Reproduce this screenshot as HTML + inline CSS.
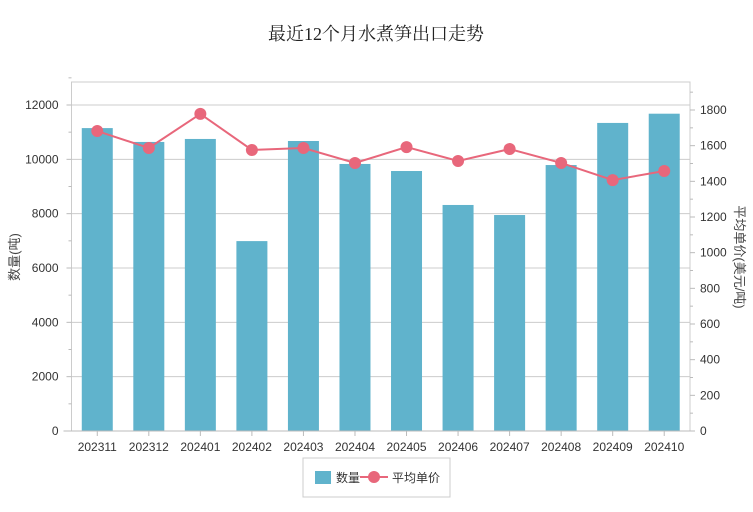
<!DOCTYPE html>
<html><head><meta charset="utf-8"><style>
body{margin:0;background:#fff;}
svg text{font-family:"Liberation Sans","Noto Sans CJK SC",sans-serif;}
</style></head><body>
<svg id="c" width="753" height="507" xmlns="http://www.w3.org/2000/svg">
<text x="376" y="40" text-anchor="middle" font-size="18" fill="#222" style="font-family:'Liberation Serif','Noto Serif CJK SC',serif">最近12个月水煮笋出口走势</text>
<g id="grid"></g><g id="bars"></g><g id="axes"></g><g id="line"></g>
<text transform="translate(19,257) rotate(-90)" text-anchor="middle" font-size="13" fill="#444">数量(吨)</text>
<text transform="translate(735,257) rotate(90)" text-anchor="middle" font-size="13" fill="#444">平均单价(美元/吨)</text>
<g>
<rect x="303" y="458" width="147" height="39" fill="#fff" stroke="#ccc"/>
<rect x="315" y="471" width="16" height="13" fill="#60b3cc"/>
<text x="336" y="482" font-size="12" fill="#333">数量</text>
<line x1="360" y1="477" x2="388" y2="477" stroke="#e8677b" stroke-width="2"/>
<circle cx="374" cy="477" r="6" fill="#e8677b"/>
<text x="392" y="482" font-size="12" fill="#333">平均单价</text>
</g>
</svg>
<script>
const categories=["202311","202312","202401","202402","202403","202404","202405","202406","202407","202408","202409","202410"];
const quantity=[11150,10640,10750,6990,10675,9830,9570,8320,7950,9790,11340,11680];
const price=[1682,1587,1778,1576,1587,1503,1592,1514,1581,1503,1407,1458];
const leftTicks=[0,2000,4000,6000,8000,10000,12000];
const rightTicks=[0,200,400,600,800,1000,1200,1400,1600,1800];
const NS="http://www.w3.org/2000/svg";
const X0=71.5,X1=690,Y0=431,YT=82;
const yL=v=>Y0-v*(326/12000);
const yR=v=>Y0-v*(321/1800);
const bw=(X1-X0)/categories.length;
const xC=i=>X0+bw*(i+0.5);
function mk(p,t,a){const e=document.createElementNS(NS,t);for(const k in a)e.setAttribute(k,a[k]);document.getElementById(p).appendChild(e);return e;}
const grid=document.getElementById('grid');
mk('grid','rect',{x:X0,y:YT,width:X1-X0,height:Y0-YT,fill:'none',stroke:'#ccc'});
leftTicks.forEach(v=>{
 const l=mk('grid','line',{x1:X0,x2:X1,y1:yL(v),y2:yL(v),stroke:'#ccc'});
 
 
 const t=mk('axes','text',{x:X0-13,y:yL(v)+4,'text-anchor':'end','font-size':'12',fill:'#333'});t.textContent=v;
 
 
 mk('axes','line',{x1:X0-5,x2:X0,y1:yL(v),y2:yL(v),stroke:'#bbb'});
 mk('axes','line',{x1:X0-3,x2:X0,y1:yL(v+1000),y2:yL(v+1000),stroke:'#bbb'});
});
rightTicks.forEach(v=>{
 const t=mk('axes','text',{x:X1+10,y:yR(v)+4,'font-size':'12',fill:'#333'});t.textContent=v;
 
 
 mk('axes','line',{x1:X1,x2:X1+5,y1:yR(v),y2:yR(v),stroke:'#bbb'});
 mk('axes','line',{x1:X1,x2:X1+3,y1:yR(v+100),y2:yR(v+100),stroke:'#bbb'});
});
mk('axes','line',{x1:X0-8,x2:X1+4,y1:Y0,y2:Y0,stroke:'#bbb'});
categories.forEach((c,i)=>{
 const b=mk('bars','rect',{x:xC(i)-15.5,y:yL(quantity[i]),width:31,height:Y0-yL(quantity[i]),fill:'#60b3cc'});
 
 
 const t=mk('axes','text',{x:xC(i),y:451,'text-anchor':'middle','font-size':'12',fill:'#333'});t.textContent=c;
 
 
 mk('axes','line',{x1:xC(i),x2:xC(i),y1:Y0,y2:Y0+5,stroke:'#bbb'});
});
const pl=mk('line','polyline',{points:price.map((v,i)=>xC(i)+','+yR(v)).join(' '),fill:'none',stroke:'#e8677b','stroke-width':2});


price.forEach((v,i)=>{
 const p=mk('line','circle',{cx:xC(i),cy:yR(v),r:6,fill:'#e8677b'});
 
 
});
</script>
</body></html>
